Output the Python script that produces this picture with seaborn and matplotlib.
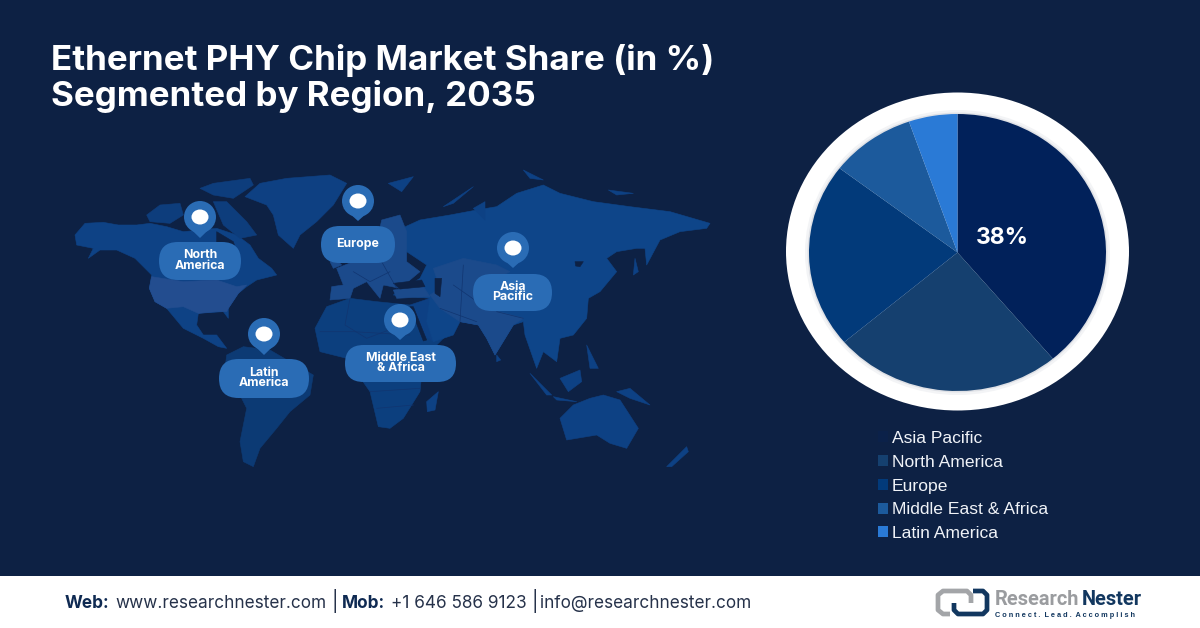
import matplotlib
matplotlib.use("Agg")
import matplotlib.pyplot as plt
import seaborn as sns
from matplotlib.patches import Ellipse, FancyBboxPatch, Polygon, Rectangle
from matplotlib.lines import Line2D

# ---- data ----
regions = ["Asia Pacific", "North America", "Europe", "Middle East & Africa", "Latin America"]
shares = [38.9, 24.9, 21.6, 9.3, 5.3]
share_label = "38%"
slice_colors = ["#01215a", "#15406f", "#023a7a", "#1c5a9c", "#2a7ad6"]
title_lines = ["Ethernet PHY Chip Market Share (in %)", "Segmented by Region, 2035"]

BG = "#0d2144"
PIN = "#2a6cb5"
W, H = 1200, 628

sns.set_theme(style="white", rc={"figure.facecolor": BG, "savefig.facecolor": BG})
palette = sns.color_palette(slice_colors)

fig = plt.figure(figsize=(12, 6.28), dpi=100, facecolor=BG)
bg = fig.add_axes([0, 0, 1, 1], facecolor=BG)
bg.set_xlim(0, W); bg.set_ylim(H, 0); bg.axis("off")

def a(pts):
    return [(70 + x / 3, 165 + y / 3) for x, y in pts]

def b(pts):
    return [(310 + x / 3, 165 + y / 3) for x, y in pts]

def shape(pts, color, z=1.0):
    bg.add_patch(Polygon(pts, closed=True, fc=color, ec=color, lw=0.4, joinstyle="round", zorder=z))

# decorative world map, west part
C_NA = "#0e4285"
shape(a([(15,210),(45,175),(100,172),(145,180),(200,180),(240,175),(290,185),(340,200),(440,190),(500,210),(540,240),(565,280),(605,310),(620,330),(560,345),(530,365),(505,385),(475,430),(475,460),(460,440),(385,445),(380,480),(400,510),(440,510),(470,550),(445,545),(400,520),(340,490),(290,430),(255,410),(238,370),(245,330),(195,280),(140,255),(90,255),(55,280),(70,250),(20,240)]), C_NA)
shape(a([(245,335),(340,350),(440,345),(500,365),(530,360),(505,385),(475,430),(470,440),(440,440),(385,445),(340,425),(290,430),(255,410),(238,370)]), "#234d8f", 1.1)
shape(a([(440,200),(490,230),(510,290),(470,300),(440,260)]), BG, 1.2)
for p in [[(230,150),(270,120),(330,115),(340,150),(300,175),(240,170)],
          [(390,70),(430,55),(540,40),(550,60),(490,100),(430,90)],
          [(430,110),(470,110),(530,170),(560,210),(510,220),(460,180)]]:
    shape(a(p), "#0d3d7c")
shape(a([(525,95),(570,55),(650,40),(780,30),(830,55),(790,120),(740,170),(690,210),(670,250),(625,210),(610,150),(590,120)]), "#0e4082")
shape(a([(470,570),(520,545),(600,555),(660,590),(730,630),(720,690),(660,740),(620,790),(570,850),(550,905),(520,890),(510,830),(530,730),(490,650),(465,610)]), "#0c3a74")

# decorative world map, east part
C_AS = "#0e4589"
C_MID = "#1b4a8b"
C_AF = "#0c3f7e"
shape(b([(15,490),(50,425),(120,400),(200,410),(300,420),(350,510),(440,480),(390,530),(340,580),(330,680),(280,760),(240,790),(205,785),(180,680),(110,580),(30,560)]), C_AF)
shape(b([(300,420),(360,400),(440,480),(370,530),(340,510)]), "#0d4084", 1.05)
shape(b([(275,190),(330,165),(420,150),(500,135),(560,125),(620,85),(700,60),(750,85),(850,110),(960,125),(1080,140),(1200,175),(1190,190),(1110,200),(1050,225),(1010,300),(1005,250),(980,250),(920,260),(890,280),(920,320),(870,380),(835,400),(830,460),(790,510),(750,520),(740,590),(700,560),(680,610),(645,510),(640,470),(610,480),(555,570),(530,520),(505,480),(450,470),(430,510),(370,530),(350,470),(360,400),(250,390),(330,340),(350,300),(290,260)]), C_AS, 1.05)
shape(b([(80,310),(130,290),(190,280),(215,165),(270,150),(290,200),(290,290),(330,320),(270,370),(220,360),(210,400),(170,350),(130,370),(120,400),(60,405),(65,365),(100,360)]), C_MID, 1.1)
shape(b([(60,290),(85,290),(95,300),(70,310)]), C_MID, 1.1)
shape(b([(370,310),(460,280),(560,300),(600,320),(490,375),(530,430),(640,460),(610,480),(555,570),(530,520),(505,480),(450,470),(390,430),(360,390),(390,370)]), C_MID, 1.15)
shape(b([(250,375),(340,365),(360,395),(260,400)]), C_MID, 1.15)
for p in [[(350,710),(385,680),(375,735),(352,740)],
          [(750,760),(790,720),(840,700),(880,690),(930,705),(985,790),(950,850),(900,835),(860,810),(770,825)],
          [(1070,905),(1130,845),(1135,860),(1085,905)],
          [(560,570),(572,585),(560,590)],
          [(660,625),(725,690),(710,690)],
          [(730,695),(800,710),(740,705)],
          [(750,640),(810,615),(815,650),(775,680)],
          [(830,540),(865,610),(840,610)],
          [(920,680),(960,670),(1020,720),(960,700)],
          [(970,330),(975,280),(985,320)],
          [(235,55),(310,35),(275,80)],
          [(400,125),(490,65),(430,115)],
          [(640,15),(700,45),(660,40)],
          [(895,75),(970,85),(920,90)],
          [(490,130),(525,110),(525,165)]]:
    shape(b(p), "#0d4184", 1.05)
for p in [[(375,340),(395,340),(390,395),(375,385)],
          [(250,355),(335,345),(345,365),(270,372)],
          [(795,290),(820,290),(810,305),(797,303)],
          [(300,425),(310,425),(350,525),(340,528)]]:
    shape(b(p), BG, 1.3)
for seg in [[(120,400),(105,480),(170,520),(250,490)],[(30,500),(130,500),(300,510)],[(180,680),(330,670)],
            [(200,730),(310,720)],[(130,320),(180,350),(240,320)],[(215,290),(260,370)],[(390,430),(500,470)],
            [(460,300),(450,470)],[(560,440),(640,460)],[(430,360),(530,430)]]:
    bg.add_line(Line2D(*zip(*b(seg)), color="#113570", lw=0.5, zorder=1.4))

def pin(cx, top, tip):
    cy = top + 16
    bg.add_patch(Ellipse((cx, cy), 32, 32, fc=PIN, ec="none", zorder=3))
    bg.add_patch(Polygon([(cx - 14.5, cy + 7), (cx, tip), (cx + 14.5, cy + 7)], closed=True, fc=PIN, ec="none", zorder=3))
    bg.add_patch(Ellipse((cx, cy), 17, 15, fc="white", ec="none", zorder=4))

def pill(x0, x1, y0, y1, txt):
    r = (y1 - y0) * 0.5
    bg.add_patch(FancyBboxPatch((x0, y0), x1 - x0, y1 - y0,
                                boxstyle=f"round,pad=0,rounding_size={r}", fc=PIN, ec="none", zorder=3))
    bg.text((x0 + x1) / 2, (y0 + y1) / 2 - 0.5, txt, color="white", fontsize=8.9, fontweight="bold",
            family="Inter", ha="center", va="center", linespacing=0.78, zorder=5)

for cx, top, tip in [(200, 201, 238), (358, 185, 221), (513, 232, 268), (264, 318, 355), (400, 304, 340)]:
    pin(cx, top, tip)
pill(159, 241, 242, 280, "North\nAmerica")
pill(321, 395, 226, 263, "Europe")
pill(473, 552, 274, 311, "Asia\nPacific")
pill(219, 309, 359, 398, "Latin\nAmerica")
pill(345, 456, 345, 382, "Middle East\n& Africa")

# title
for txt, yb in zip(title_lines, [70, 106]):
    bg.text(51, yb, txt, color="white", fontsize=25.2, fontweight="bold", family="Inter", va="baseline", ha="left")

# ring
bg.add_patch(Ellipse((957.5, 251.5), 343, 318, fc="white", ec="none", zorder=2))
bg.add_patch(Ellipse((957.5, 252.5), 305, 285, fc="#f3f4f6", ec="none", zorder=2.05))
bg.add_patch(Ellipse((957.5, 252.5), 300, 280, fc="#dfe1e6", ec="none", zorder=2.1))

# pie
px0, px1, py0, py1 = 809, 1106, 114, 391
ax = fig.add_axes([px0 / W, 1 - py1 / H, (px1 - px0) / W, (py1 - py0) / H])
wedges, _ = ax.pie(shares, colors=palette, startangle=90, counterclock=False, radius=1,
                   wedgeprops={"linewidth": 0})
ax.set_aspect("auto")
ax.set_xlim(-1, 1); ax.set_ylim(-1, 1)
ax.patch.set_alpha(0)
ax.text(0.30, 0.105, share_label, color="white", fontsize=16.5, fontweight="bold", family="Inter",
        ha="center", va="center")

leg = ax.legend(wedges, regions, loc="upper left", bbox_to_anchor=(878 / W, 1 - 431 / H),
                bbox_transform=fig.transFigure, frameon=False, fontsize=12.6, labelspacing=0.5,
                handlelength=0.58, handleheight=0.58, handletextpad=0.2, borderpad=0, borderaxespad=0)
for t in leg.get_texts():
    t.set_color("#f0f3f8"); t.set_family("Liberation Sans")
leg.legend_handles[0].set_facecolor("#0b2149")

# footer
bg.add_patch(Rectangle((0, 576), W, 52, fc="white", ec="none", zorder=6))
NAVY = "#0f2a52"
for x, txt, wt, col, fs in [(65, "Web:", "bold", NAVY, 12.4), (115, "www.researchnester.com", "normal", "#26324a", 12.4),
                            (331, "|", "normal", "#26324a", 14), (342, "Mob:", "bold", NAVY, 12.4),
                            (391, "+1 646 586 9123", "normal", "#26324a", 12.4), (532, "|", "normal", "#26324a", 14),
                            (540, "info@researchnester.com", "normal", "#26324a", 12.4)]:
    bg.text(x, 608, txt, color=col, fontsize=fs, fontweight=wt, family="Inter", va="baseline", zorder=7)

# logo
bg.add_line(Line2D([971, 971, 967, 943, 938, 938, 943, 950], [603, 595, 591, 591, 595, 610, 614, 614],
                   color="#a3a5a8", lw=3.4, solid_joinstyle="round", solid_capstyle="butt", zorder=7))
bg.add_line(Line2D([973, 983, 987, 987, 983, 958, 954, 954], [591, 591, 595, 610, 614, 614, 610, 603],
                   color="#12375f", lw=3.4, solid_joinstyle="round", solid_capstyle="butt", zorder=7.1))
bg.text(995, 605, "Research", color="#9a9c9f", fontsize=14.4, fontweight="bold", family="Roboto", va="baseline", zorder=8)
bg.text(1082, 605, "Nester", color="#12375f", fontsize=14.4, fontweight="bold", family="Roboto", va="baseline", zorder=8)
bg.text(995, 617, "C o n n e c t .  L e a d .  A c c o m p l i s h", color="#12375f", fontsize=5.3, fontweight="bold",
        family="Liberation Sans", va="baseline", zorder=8)

fig.savefig("out.png", dpi=100, facecolor=BG)
